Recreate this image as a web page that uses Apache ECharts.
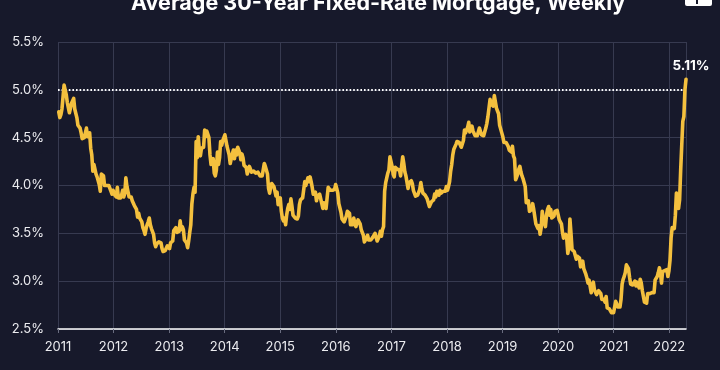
<!DOCTYPE html>
<html>
<head>
<meta charset="utf-8">
<style>
  html, body { margin: 0; padding: 0; background: #17192b; }
  #chart { width: 720px; height: 370px; }
</style>
<script src="https://cdn.jsdelivr.net/npm/echarts@6/dist/echarts.min.js"></script>
</head>
<body>
<div id="chart"></div>
<script>
// Freddie Mac PMMS style weekly 30-year fixed rate (%), weekly from 2011-01-06
var startDate = '2011-01-06';
var rates2011 = [4.77,4.71,4.74,4.80,4.81,5.05,5.00,4.95,4.87,4.88,4.76,4.81,4.86,4.87,4.91,4.80,4.78,4.71,4.63,4.61,4.60,4.55,4.49,4.50,4.50,4.51,4.60,4.51,4.52,4.55,4.39,4.32,4.15,4.22,4.22,4.12,4.09,4.09,4.01,3.94,4.12,4.11,4.10,4.00,3.99,4.00,3.98,4.00,3.99,3.94,3.91,3.95];
var rates2012 = [3.91,3.89,3.88,3.98,3.87,3.87,3.87,3.90,3.95,3.88,3.92,4.08,3.99,3.98,3.88,3.90,3.88,3.84,3.83,3.79,3.78,3.75,3.67,3.71,3.66,3.66,3.62,3.56,3.53,3.49,3.55,3.59,3.62,3.66,3.59,3.55,3.55,3.49,3.40,3.36,3.39,3.37,3.41,3.39,3.40,3.34,3.31,3.32,3.32,3.32,3.37,3.35];
var rates2013 = [3.34,3.40,3.38,3.42,3.53,3.53,3.56,3.51,3.52,3.52,3.63,3.54,3.57,3.54,3.43,3.41,3.40,3.35,3.42,3.51,3.59,3.81,3.91,3.98,3.93,4.46,4.29,4.51,4.37,4.31,4.39,4.40,4.40,4.58,4.51,4.57,4.57,4.50,4.32,4.22,4.23,4.28,4.13,4.10,4.16,4.35,4.22,4.29,4.46,4.42,4.47,4.48];
var rates2014 = [4.53,4.51,4.41,4.39,4.32,4.23,4.28,4.33,4.37,4.28,4.37,4.32,4.40,4.41,4.34,4.27,4.33,4.29,4.21,4.20,4.19,4.12,4.14,4.20,4.17,4.14,4.15,4.15,4.13,4.13,4.12,4.14,4.12,4.10,4.10,4.10,4.12,4.23,4.20,4.19,4.12,3.97,3.92,3.98,4.02,4.01,3.99,3.97,3.89,3.93,3.80,3.83,3.87];
var rates2015 = [3.73,3.66,3.63,3.66,3.59,3.69,3.76,3.80,3.75,3.86,3.78,3.69,3.70,3.66,3.67,3.65,3.68,3.80,3.85,3.84,3.87,3.87,4.04,4.00,4.02,4.08,4.04,4.09,4.04,3.98,3.91,3.93,3.93,3.84,3.89,3.90,3.91,3.86,3.85,3.76,3.82,3.79,3.76,3.87,3.98,3.97,3.95,3.93,3.95,3.97,3.96,4.01];
var rates2016 = [3.97,3.92,3.81,3.79,3.72,3.65,3.65,3.62,3.64,3.68,3.73,3.71,3.71,3.59,3.58,3.59,3.66,3.61,3.57,3.58,3.64,3.66,3.60,3.54,3.56,3.48,3.41,3.42,3.45,3.48,3.43,3.45,3.43,3.43,3.46,3.44,3.50,3.48,3.42,3.42,3.47,3.52,3.47,3.54,3.57,3.94,4.03,4.08,4.13,4.16,4.30,4.32];
var rates2017 = [4.20,4.12,4.09,4.19,4.19,4.17,4.15,4.16,4.10,4.21,4.30,4.23,4.14,4.10,4.08,3.97,4.03,4.02,4.05,4.02,3.95,3.94,3.89,3.91,3.90,3.88,3.96,4.03,3.96,3.92,3.93,3.90,3.89,3.86,3.82,3.78,3.78,3.83,3.83,3.85,3.91,3.88,3.94,3.94,3.90,3.95,3.92,3.90,3.94,3.93,3.94,3.99];
var rates2018 = [3.95,3.99,4.04,4.15,4.22,4.32,4.38,4.40,4.43,4.46,4.44,4.45,4.44,4.40,4.42,4.47,4.58,4.55,4.55,4.61,4.66,4.56,4.54,4.62,4.57,4.55,4.52,4.53,4.52,4.54,4.60,4.59,4.53,4.51,4.52,4.54,4.60,4.65,4.72,4.71,4.90,4.85,4.86,4.83,4.94,4.94,4.81,4.81,4.75,4.63,4.62,4.55];
var rates2019 = [4.51,4.45,4.45,4.45,4.46,4.41,4.37,4.35,4.35,4.41,4.31,4.28,4.06,4.08,4.12,4.17,4.20,4.14,4.10,4.07,4.06,3.99,3.82,3.82,3.84,3.73,3.75,3.75,3.81,3.75,3.75,3.60,3.60,3.55,3.58,3.49,3.56,3.73,3.64,3.65,3.57,3.69,3.75,3.78,3.69,3.75,3.66,3.68,3.68,3.73,3.73,3.74];
var rates2020 = [3.72,3.64,3.65,3.60,3.51,3.45,3.47,3.49,3.45,3.29,3.36,3.65,3.50,3.33,3.33,3.31,3.33,3.23,3.26,3.28,3.24,3.15,3.18,3.21,3.13,3.13,3.07,3.03,2.98,3.01,2.99,2.88,2.96,2.99,2.91,2.93,2.86,2.87,2.90,2.88,2.87,2.81,2.80,2.81,2.78,2.84,2.72,2.72,2.71,2.71,2.67,2.66,2.67];
var rates2021 = [2.65,2.79,2.77,2.73,2.73,2.73,2.81,2.97,3.02,3.05,3.09,3.17,3.18,3.13,3.04,2.97,2.98,2.96,2.94,3.00,2.95,2.99,2.96,2.93,3.02,2.98,2.90,2.88,2.78,2.80,2.77,2.87,2.86,2.87,2.87,2.88,2.86,2.88,3.01,2.99,3.05,3.09,3.14,3.09,2.98,3.10,3.10,3.11,3.10,3.12,3.05,3.11];
var rates2022 = [3.22,3.45,3.56,3.55,3.55,3.69,3.92,3.89,3.76,3.85,4.16,4.42,4.67,4.72,5.00,5.11];

var yTicks = [2.5, 3.0, 3.5, 4.0, 4.5, 5.0, 5.5];
var referenceLevel = 5.0;
var titleText = 'Average 30-Year Fixed-Rate Mortgage, Weekly';

var allRates = [].concat(rates2011, rates2012, rates2013, rates2014, rates2015, rates2016,
  rates2017, rates2018, rates2019, rates2020, rates2021, rates2022);
var DAY = 86400000;
var t0 = Date.parse(startDate + 'T00:00:00Z');
var seriesData = allRates.map(function (v, i) { return [t0 + i * 7 * DAY, v]; });
var last = seriesData[seriesData.length - 1];

var chart = echarts.init(document.getElementById('chart'), null, { renderer: 'canvas' });
chart.setOption({
  useUTC: true,
  backgroundColor: '#17192b',
  animation: false,
  textStyle: { fontFamily: 'Inter' },
  grid: { left: 58, right: 34, top: 42, bottom: 41, containLabel: false },
  xAxis: {
    type: 'time',
    min: Date.UTC(2011, 0, 1),
    max: last[0],
    minInterval: 365 * DAY,
    splitNumber: 11,
    axisLine: { show: true, lineStyle: { color: '#ffffff', width: 1.5 } },
    axisTick: { show: true, length: 4, lineStyle: { color: '#6a6d80', width: 1 } },
    axisLabel: {
      color: '#ececf0', fontSize: 13, margin: 12, fontFamily: 'Inter',
      formatter: '{yyyy}', hideOverlap: false
    },
    splitLine: { show: true, lineStyle: { color: '#373a50', width: 1 } }
  },
  yAxis: {
    type: 'value',
    min: yTicks[0],
    max: yTicks[yTicks.length - 1],
    interval: 0.5,
    axisLine: { show: false },
    axisTick: { show: false },
    axisLabel: {
      color: '#ececf0', fontSize: 13, margin: 14, fontFamily: 'Inter',
      formatter: function (v) { return v.toFixed(1) + '%'; }
    },
    splitLine: { show: true, lineStyle: { color: '#373a50', width: 1 } }
  },
  series: [{
    type: 'line',
    data: seriesData,
    showSymbol: false,
    symbol: 'none',
    lineStyle: { color: '#f4c03e', width: 3.6, join: 'round', cap: 'round' },
    z: 3,
    markLine: {
      silent: true,
      symbol: 'none',
      label: { show: false },
      lineStyle: { color: '#ffffff', type: [1.6, 2], width: 2 },
      data: [{ yAxis: referenceLevel }],
      z: 2
    },
    markPoint: {
      silent: true,
      symbol: 'circle',
      symbolSize: 1,
      itemStyle: { color: 'rgba(0,0,0,0)' },
      label: {
        show: true, position: 'top', distance: 6, offset: [5, 0],
        color: '#ffffff', fontWeight: 'bold', fontSize: 13.5, fontFamily: 'Inter',
        formatter: function () { return last[1].toFixed(2) + '%'; }
      },
      data: [{ coord: last }]
    }
  }],
  graphic: [
    {
      type: 'text', left: 131, top: -7,
      style: { text: titleText, fill: '#ffffff', font: 'bold 21.5px Inter' }
    },
    {
      type: 'rect', left: 685, top: -4,
      shape: { width: 27, height: 10, r: 2 },
      style: { fill: '#ffffff' }
    },
    {
      type: 'rect', left: 696, top: -4,
      shape: { width: 2, height: 8 },
      style: { fill: '#17192b' }
    }
  ]
});
</script>
</body>
</html>
